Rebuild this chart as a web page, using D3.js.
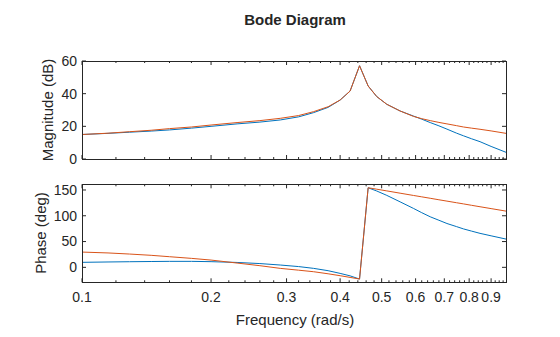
<!DOCTYPE html>
<html><head><meta charset="utf-8">
<script src="https://cdn.jsdelivr.net/npm/d3@7"></script>
<style>body{margin:0;background:#fff}svg{display:block}text{font-family:"Liberation Sans",Arial,sans-serif;fill:#262626}</style>
</head><body><svg id="c" width="560" height="337"></svg>
<script>
const freq = [0.1, 0.115, 0.129, 0.145, 0.16, 0.18, 0.2, 0.23, 0.26, 0.29, 0.32, 0.347, 0.375, 0.4, 0.422, 0.444, 0.465, 0.487, 0.514, 0.552, 0.593, 0.62, 0.649, 0.68, 0.71, 0.748, 0.776, 0.81, 0.848, 0.9, 0.975];
const magBlue = [15.0, 15.7, 16.4, 17.1, 17.8, 18.9, 20.0, 21.5, 22.6, 23.9, 25.8, 28.4, 31.6, 36.1, 41.6, 57.1, 44.7, 38.2, 33.5, 29.4, 26.3, 24.4, 22.3, 20.3, 18.3, 15.8, 14.2, 12.4, 10.6, 7.7, 4.1];
const magOrange = [15.0, 15.8, 16.7, 17.6, 18.6, 19.6, 20.8, 22.3, 23.5, 24.9, 26.6, 29.0, 32.0, 36.1, 41.6, 57.1, 44.7, 38.2, 33.5, 29.4, 26.1, 24.7, 23.5, 22.4, 21.5, 20.4, 19.6, 18.9, 18.2, 17.2, 15.7];
const phBlue = [9.7, 10.4, 10.9, 11.3, 11.6, 11.6, 11.0, 9.5, 7.3, 4.5, 1.5, -2.0, -6.5, -11.7, -16.5, -22.7, 154.3, 148, 139.5, 127, 114.3, 106, 98, 91.3, 85, 78.9, 74.5, 70.3, 65.9, 61.1, 54.8];
const phOrange = [29.6, 27.9, 25.8, 23.3, 20.6, 17.4, 14.1, 8.3, 3.2, -2.0, -5.5, -8.5, -12.5, -16.2, -19.5, -22.7, 154.3, 151.5, 148.2, 143.8, 139.4, 136.7, 133.9, 131.0, 128.4, 125.2, 123.0, 120.3, 117.5, 113.9, 109.0];
const xMajor = [0.1, 0.2, 0.3, 0.4, 0.5, 0.6, 0.7, 0.8, 0.9];
const xLabels = ["0.1", "0.2", "0.3", "0.4", "0.5", "0.6", "0.7", "0.8", "0.9"];
const magTicks = [0, 20, 40, 60];
const phTicks = [0, 50, 100, 150];

const svg = d3.select("#c");
const L = 82, R = 506;
const x = d3.scaleLog().domain([0.1, 0.975]).range([L, R]);
const yMag = d3.scaleLinear().domain([0, 60]).range([159, 61]);
const yPh = d3.scaleLinear().domain([-29, 161]).range([282.3, 184.3]);
const minor = d3.range(0.12, 0.975, 0.02).map(v => +v.toFixed(2)).filter(v => !xMajor.some(m => Math.abs(m - v) < 1e-6));
const ax = "#262626";

function panel(y, yt, series, showX) {
  const [t, b] = y.range().slice().reverse();
  const g = svg.append("g");
  series.forEach(s => {
    g.append("path").datum(freq.map((f, i) => [f, s.v[i]]))
      .attr("fill", "none").attr("stroke", s.c).attr("stroke-width", 1)
      .attr("d", d3.line().x(d => x(d[0])).y(d => y(d[1])));
  });
  g.append("rect").attr("x", L).attr("y", t).attr("width", R - L).attr("height", b - t)
    .attr("fill", "none").attr("stroke", ax).attr("stroke-width", 1).attr("shape-rendering", "crispEdges");
  const tk = (v, len) => {
    g.append("line").attr("x1", x(v)).attr("x2", x(v)).attr("y1", b).attr("y2", b - len).attr("stroke", ax);
    g.append("line").attr("x1", x(v)).attr("x2", x(v)).attr("y1", t).attr("y2", t + len).attr("stroke", ax);
  };
  xMajor.forEach(v => tk(v, 4));
  minor.forEach(v => tk(v, 2));
  yt.forEach(v => {
    g.append("line").attr("x1", L).attr("x2", L + 4).attr("y1", y(v)).attr("y2", y(v)).attr("stroke", ax);
    g.append("line").attr("x1", R).attr("x2", R - 4).attr("y1", y(v)).attr("y2", y(v)).attr("stroke", ax);
    g.append("text").attr("x", L - 5).attr("y", y(v)).attr("dy", "0.35em").attr("text-anchor", "end")
      .attr("font-size", 14).text(v);
  });
  if (showX) {
    xMajor.forEach((v, i) => {
      g.append("text").attr("x", x(v)).attr("y", b + 20).attr("text-anchor", "middle")
        .attr("font-size", 14).text(xLabels[i]);
    });
  }
}

panel(yMag, magTicks, [{v: magBlue, c: "#0072BD"}, {v: magOrange, c: "#D95319"}], false);
panel(yPh, phTicks, [{v: phBlue, c: "#0072BD"}, {v: phOrange, c: "#D95319"}], true);

svg.append("text").attr("x", 295).attr("y", 25).attr("text-anchor", "middle")
  .attr("font-size", 15).attr("font-weight", "bold").text("Bode Diagram");
svg.append("text").attr("x", 295).attr("y", 325).attr("text-anchor", "middle")
  .attr("font-size", 15).text("Frequency (rad/s)");
svg.append("text").attr("transform", "translate(53,110) rotate(-90)").attr("text-anchor", "middle")
  .attr("font-size", 15).text("Magnitude (dB)");
svg.append("text").attr("transform", "translate(46,233) rotate(-90)").attr("text-anchor", "middle")
  .attr("font-size", 15).text("Phase (deg)");
</script></body></html>
